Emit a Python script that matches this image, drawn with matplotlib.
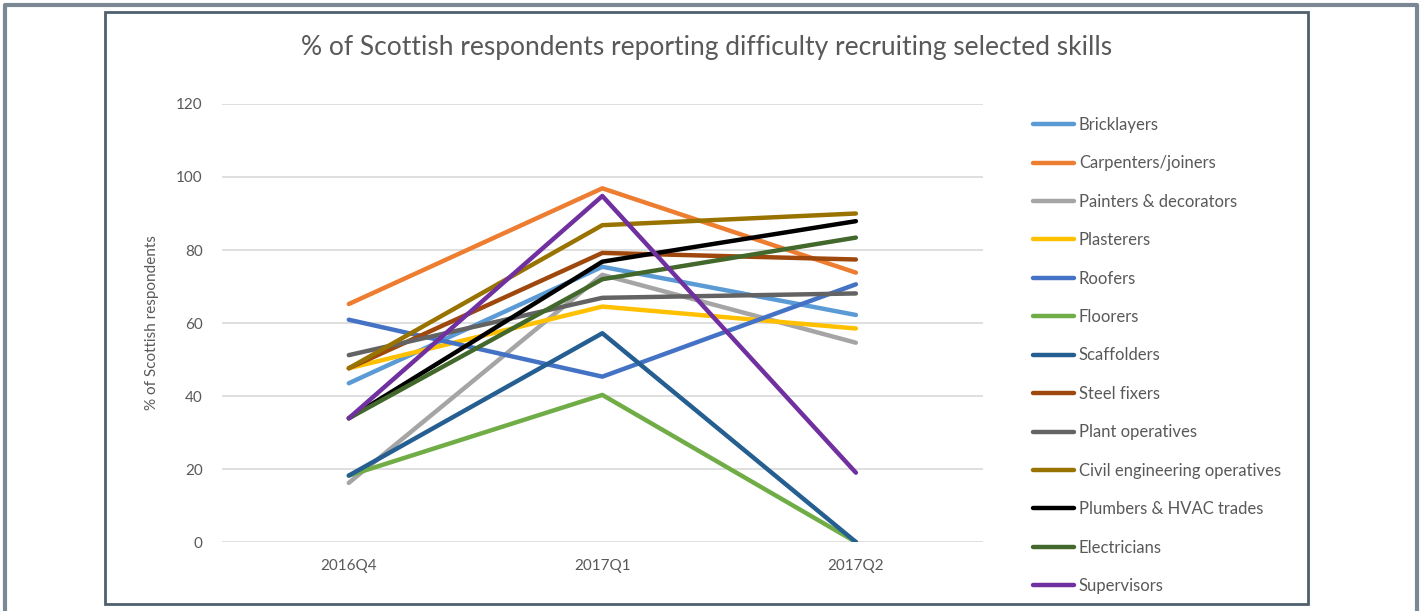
import matplotlib
matplotlib.use("Agg")
import matplotlib.pyplot as plt
from matplotlib.patches import Rectangle
from matplotlib.lines import Line2D

quarters = ["2016Q4", "2017Q1", "2017Q2"]

bricklayers = [43.5, 75.4, 62.2]
carpenters = [65.2, 96.9, 73.8]
painters = [16.2, 73.2, 54.6]
plasterers = [47.6, 64.5, 58.5]
roofers = [60.9, 45.3, 70.6]
floorers = [18.2, 40.3, 0]
scaffolders = [18.2, 57.2, 0]
steel_fixers = [47.6, 79.2, 77.4]
plant_operatives = [51.2, 66.9, 68.1]
civil_engineering = [47.6, 86.8, 90.0]
plumbers = [33.9, 76.8, 87.9]
electricians = [33.9, 72.0, 83.4]
supervisors = [33.9, 94.8, 19.0]

labels = ["Bricklayers", "Carpenters/joiners", "Painters & decorators", "Plasterers",
          "Roofers", "Floorers", "Scaffolders", "Steel fixers", "Plant operatives",
          "Civil engineering operatives", "Plumbers & HVAC trades", "Electricians",
          "Supervisors"]
series = [bricklayers, carpenters, painters, plasterers, roofers, floorers, scaffolders,
          steel_fixers, plant_operatives, civil_engineering, plumbers, electricians,
          supervisors]
colors = ["#5B9BD5", "#ED7D31", "#A5A5A5", "#FFC000", "#4472C4", "#70AD47", "#255E91",
          "#9E480E", "#636363", "#997300", "#000000", "#43682B", "#7030A0"]

plt.rcParams['font.family'] = ['Lato', 'DejaVu Sans']
text_col = "#595959"

fig = plt.figure(figsize=(14.26, 6.11), dpi=100)
ax = fig.add_axes([0.1557, 0.1129, 0.5334, 0.7169])

x = list(range(len(quarters)))
for vals, lab, col in zip(series, labels, colors):
    ax.plot(x, vals, color=col, lw=3.2, label=lab, solid_capstyle="round")

ax.set_xlim(-0.5, 2.5)
ax.set_ylim(0, 120)
ax.set_yticks(range(0, 121, 20))
ax.set_xticks(x)
ax.set_xticklabels(quarters)
ax.grid(axis="y", color="#D9D9D9", lw=1.2)
ax.set_axisbelow(True)
for s in ax.spines.values():
    s.set_visible(False)
ax.tick_params(length=0, labelsize=11, labelcolor=text_col, pad=14)
ax.tick_params(axis="x", pad=12)
ax.set_ylabel("% of Scottish respondents", fontsize=11, color=text_col, labelpad=12)

fig.text(0.4955, 0.923, "% of Scottish respondents reporting difficulty recruiting selected skills",
         ha="center", va="center", fontsize=19, color=text_col)

leg = ax.legend(loc="upper left", bbox_to_anchor=(1033 / 1426, 1 - 117 / 611),
                bbox_transform=fig.transFigure, frameon=False, fontsize=12,
                labelcolor=text_col, handlelength=2.45, handletextpad=0.3,
                labelspacing=1.345, borderaxespad=0, borderpad=0)
for h in leg.get_lines():
    h.set_linewidth(3.2)

# chart frame and outer page frame
fig.patches.append(Rectangle((105 / 1426, 1 - 604 / 611), (1308 - 105) / 1426, (604 - 12) / 611,
                             transform=fig.transFigure, fill=False, edgecolor="#4F5F6D", lw=2))
fig.lines.append(Line2D([5 / 1426, 5 / 1426, 1417 / 1426, 1417 / 1426], [0, 1 - 5 / 611, 1 - 5 / 611, 0],
                        transform=fig.transFigure, color="#7B8894", lw=3))

fig.savefig("out.png", dpi=100)
